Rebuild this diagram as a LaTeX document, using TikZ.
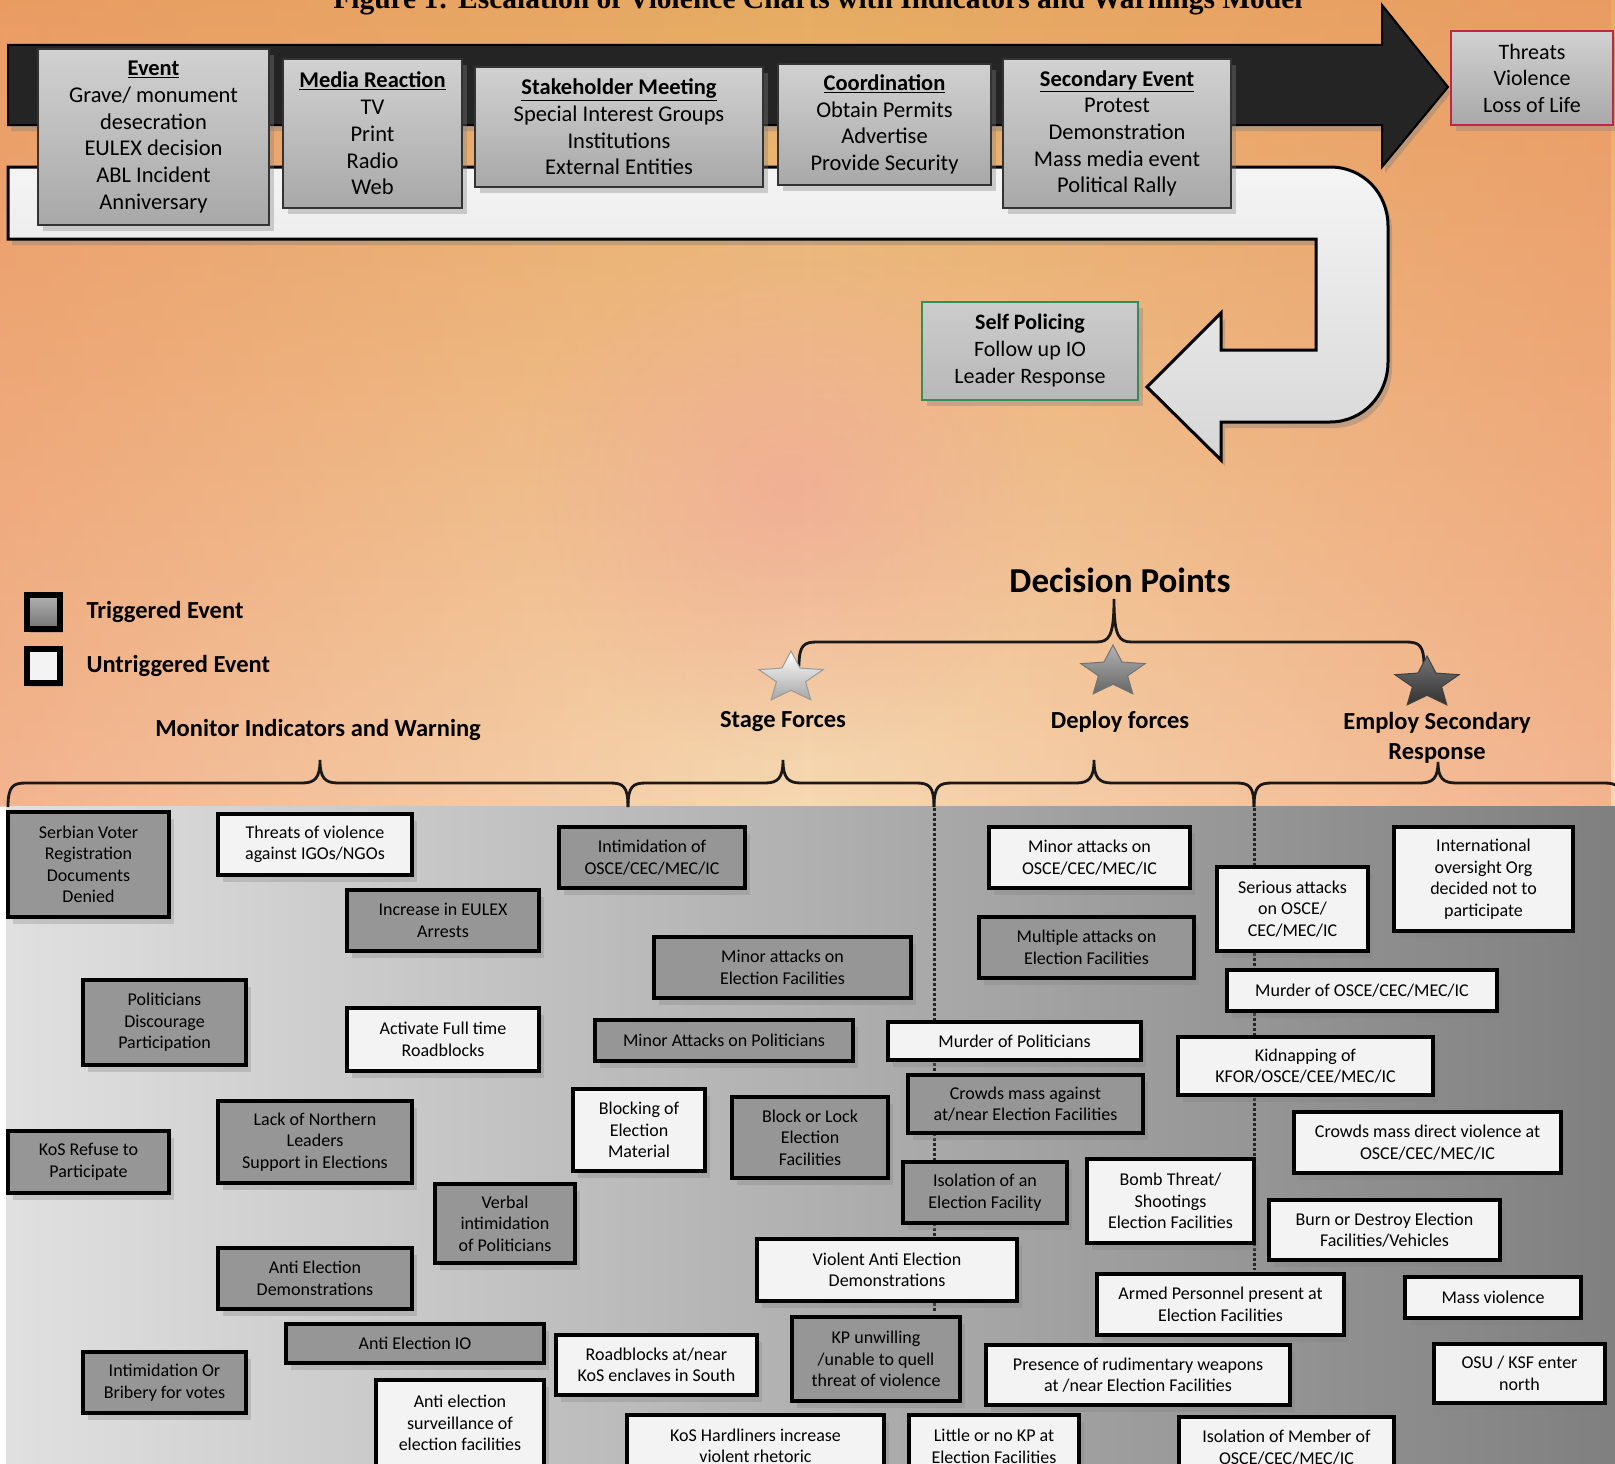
\documentclass[tikz,border=0pt]{standalone}
\usepackage{fontspec}
\setmainfont{Carlito}
\newfontfamily\titlefont{Liberation Serif}
\usetikzlibrary{positioning,shapes.geometric,shadows,fadings}

\definecolor{bgtop}{RGB}{230,172,98}
\definecolor{bgbot}{RGB}{246,216,178}
\definecolor{bgedge}{RGB}{238,136,100}
\definecolor{glow}{RGB}{242,164,150}
\definecolor{trigfill}{RGB}{150,150,150}
\definecolor{untrigfill}{RGB}{243,243,243}
\definecolor{arrowdark}{RGB}{36,36,36}
\definecolor{selfgreen}{RGB}{52,140,96}
\definecolor{threatred}{RGB}{190,40,70}

\tikzfading[name=sideedges, left color=transparent!0, right color=transparent!0, middle color=transparent!100]
\tikzfading[name=glowfade, inner color=transparent!0, outer color=transparent!100]

% header line of a phase box
\newcommand{\hd}[1]{\textbf{\underline{#1}}}
% curly bracket: left x, peak x, right x, line y, end y, peak y
\newcommand{\evbrace}[6]{%
  \draw[brc] (#1,#5) .. controls (#1,#4+3) and (#1+5,#4) .. (#1+18,#4)
    -- (#2-18,#4) .. controls (#2-5,#4) and (#2,#4-5) .. (#2,#6)
    .. controls (#2,#4-5) and (#2+5,#4) .. (#2+18,#4)
    -- (#3-18,#4) .. controls (#3-5,#4) and (#3,#4+3) .. (#3,#5);}

\begin{document}
\begin{tikzpicture}[
x=1pt, y=-1pt,
sz/.style 2 args={minimum width=#1-4, minimum height=#2-4},
phase/.style={draw=black!80, line width=2.5pt, top color=black!18, bottom color=black!34, inner sep=0pt, align=center, font=\fontsize{22.5}{26.7}\selectfont, drop shadow={opacity=0.35, shadow xshift=5pt, shadow yshift=-6pt}},
evbox/.style={draw=black, line width=4.5pt, inner sep=0pt, align=center, font=\fontsize{18}{21.5}\selectfont, drop shadow={opacity=0.3, shadow xshift=5pt, shadow yshift=-7pt}},
trig/.style={evbox, fill=trigfill},
untrig/.style={evbox, fill=untrigfill},
legsq/.style={draw=black, line width=6pt, minimum width=33, minimum height=34, inner sep=0pt, drop shadow={opacity=0.35, shadow xshift=3pt, shadow yshift=-4pt}},
lbl/.style={font=\fontsize{24.5}{30}\bfseries\selectfont, align=center},
dpstar/.style={star, star points=5, star point ratio=2.2, minimum size=54, inner sep=0pt, line width=1pt, transform shape},
brc/.style={line width=2.8pt, black!90},
dotline/.style={line width=3pt, black!85, dash pattern=on 2.5pt off 2.5pt},
darrow/.style={draw=black, line width=2pt, fill=arrowdark, drop shadow={opacity=0.4, shadow xshift=3pt, shadow yshift=-6pt}},
uarrow/.style={draw=black, line width=3pt, top color=black!4, bottom color=black!16, drop shadow={opacity=0.4, shadow xshift=4pt, shadow yshift=-6pt}}
]
\useasboundingbox (0,0) rectangle (1615,1464);

% background
\shade[top color=bgtop, bottom color=bgbot] (0,0) rectangle (1615,806);
\fill[bgedge, path fading=sideedges, opacity=0.45] (0,0) rectangle (1615,806);
\fill[glow, path fading=glowfade, opacity=0.65] (790,490) circle (270);
\shade[left color=black!12, middle color=black!25, right color=black!50] (6,806) rectangle (1615,1464);

\node[font=\titlefont\fontsize{29.5}{34}\bfseries\selectfont, anchor=base] (title) at (818,9) {Figure 1: Escalation of Violence Charts with Indicators and Warnings Model};

% escalation arrows
\draw[darrow] (8,45) -- (1382,45) -- (1382,5) -- (1448,87) -- (1382,167) -- (1382,125) -- (8,125) -- cycle;
\draw[uarrow] (8,167) -- (1330,167) .. controls (1363,167) and (1388,193) .. (1388,226)
  -- (1388,362) .. controls (1388,395) and (1363,422) .. (1330,422) -- (1221,422) -- (1221,460)
  -- (1147,387) -- (1221,313) -- (1221,350) -- (1316,350) -- (1316,239) -- (8,239) -- cycle;

\node[phase, sz={235}{180}] (event) at (153.5,137) {\hd{Event}\\Grave/ monument\\desecration\\EULEX decision\\ABL Incident\\Anniversary};
\node[phase, sz={183}{153}] (media) at (372.5,133.5) {\hd{Media Reaction}\\TV\\Print\\Radio\\Web};
\node[phase, sz={292}{124}] (stake) at (619,127) {\hd{Stakeholder Meeting}\\Special Interest Groups\\Institutions\\External Entities};
\node[phase, sz={217}{125}] (coord) at (884.5,124.5) {\hd{Coordination}\\Obtain Permits\\Advertise\\Provide Security};
\node[phase, sz={232}{153}] (second) at (1117,133.5) {\hd{Secondary Event}\\Protest\\Demonstration\\Mass media event\\Political Rally};
\node[phase, draw=threatred, line width=1.5pt, font=\fontsize{22}{26.5}\selectfont, sz={166}{98}] (threats) at (1532,78) {Threats\\Violence\\Loss of Life};
\node[phase, draw=selfgreen, line width=1.5pt, top color=black!20, bottom color=black!28, font=\fontsize{22}{27}\selectfont, sz={220}{102}] (selfpol) at (1030,351) {\textbf{Self Policing}\\Follow up IO\\Leader Response};

% legend
\node[legsq, top color=black!30, bottom color=black!55] (trig) at (43.5,612) {};
\node[legsq, fill=untrigfill] (untrig) at (43.5,665.5) {};
\node[lbl, right=20pt of trig] (triglbl) {Triggered Event};
\node[lbl, right=20pt of untrig] (untriglbl) {Untriggered Event};

% decision points
\node[font=\fontsize{35}{40}\bfseries\selectfont] (dptitle) at (1120,580) {Decision Points};
\evbrace{799}{1114}{1424}{642}{666}{599}
\begin{scope}[shift={(791,678)}, xscale=1.25]
\node[dpstar, draw=black!40, top color=white, bottom color=black!35] (stagestar) {};
\end{scope}
\begin{scope}[shift={(1113,672)}, xscale=1.25]
\node[dpstar, draw=black!55, top color=black!30, bottom color=black!60] (deploystar) {};
\end{scope}
\begin{scope}[shift={(1427,683)}, xscale=1.25]
\node[dpstar, draw=black!75, top color=black!55, bottom color=black!80] (employstar) {};
\end{scope}
\node[lbl] (stagelbl) at (783,722) {Stage Forces};
\node[lbl] (deploylbl) at (1120,722) {Deploy forces};
\node[lbl] (employlbl) at (1437,738) {Employ Secondary\\Response};
\node[lbl] (monitorlbl) at (318,730) {Monitor Indicators and Warning};

% phase brackets
\evbrace{8}{320}{628}{783}{807}{760}
\evbrace{628}{783}{934}{783}{807}{760}
\evbrace{934}{1094}{1254}{783}{807}{760}
\evbrace{1254}{1438}{1622}{783}{807}{762}
\coordinate (j2) at (934,808);
\coordinate (j2end) at (934,1312);
\coordinate (j3) at (1254,808);
\coordinate (j3end) at (1254,1270);
\draw[dotline] (j2) -- (j2end);
\draw[dotline] (j3) -- (j3end);

% monitor indicators and warning
\node[trig, sz={165}{109}] (serbian) at (88.5,864.5) {Serbian Voter\\Registration\\Documents\\Denied};
\node[untrig, sz={198}{65}] (threatigo) at (315,844.5) {Threats of violence\\against IGOs/NGOs};
\node[trig, sz={196}{65}] (eulex) at (443,920.5) {Increase in EULEX\\Arrests};
\node[trig, sz={167}{89}] (discourage) at (164.5,1022.5) {Politicians\\Discourage\\Participation};
\node[untrig, sz={196}{67}] (fulltime) at (443,1039.5) {Activate Full time\\Roadblocks};
\node[trig, sz={198}{86}] (lacknorth) at (315,1142) {Lack of Northern\\Leaders\\Support in Elections};
\node[trig, sz={165}{66}] (kosrefuse) at (88.5,1162) {KoS Refuse to\\Participate};
\node[trig, sz={144}{83}] (verbal) at (505,1223.5) {Verbal\\intimidation\\of Politicians};
\node[trig, sz={198}{65}] (antidemo) at (315,1278.5) {Anti Election\\Demonstrations};
\node[trig, sz={262}{43}] (antiio) at (415,1343.5) {Anti Election IO};
\node[trig, sz={167}{65}] (bribery) at (164.5,1382.5) {Intimidation Or\\Bribery for votes};
\node[untrig, sz={172}{90}] (surveil) at (460,1423) {Anti election\\surveillance of\\election facilities};

% stage forces
\node[trig, sz={190}{65}] (intimosce) at (652,857.5) {Intimidation of\\OSCE/CEC/MEC/IC};
\node[trig, sz={261}{65}] (minorfac) at (782.5,967.5) {Minor attacks on\\Election Facilities};
\node[trig, sz={262}{45}] (minorpol) at (724,1040.5) {Minor Attacks on Politicians};
\node[untrig, sz={136}{86}] (blocking) at (639,1130) {Blocking of\\Election\\Material};
\node[trig, sz={160}{85}] (blocklock) at (810,1137.5) {Block or Lock\\Election\\Facilities};
\node[untrig, sz={205}{64}] (roadkos) at (656.5,1365) {Roadblocks at/near\\KoS enclaves in South};
\node[untrig, sz={261}{66}] (hardliners) at (755.5,1446) {KoS Hardliners increase\\violent rhetoric};

% deploy forces
\node[untrig, sz={257}{42}] (murderpol) at (1014.5,1041) {Murder of Politicians};
\node[trig, sz={239}{62}] (crowdsnear) at (1025.5,1104) {Crowds mass against\\at/near Election Facilities};
\node[trig, sz={168}{65}] (isolfac) at (985,1192.5) {Isolation of an\\Election Facility};
\node[untrig, sz={264}{66}] (violentdemo) at (887,1270) {Violent Anti Election\\Demonstrations};
\node[trig, sz={172}{88}] (kpunwill) at (876,1359) {KP unwilling\\/unable to quell\\threat of violence};
\node[untrig, sz={174}{67}] (littlekp) at (994,1446.5) {Little or no KP at\\Election Facilities};
\node[untrig, sz={205}{65}] (minorosce) at (1089.5,857.5) {Minor attacks on\\OSCE/CEC/MEC/IC};
\node[trig, sz={219}{65}] (multiple) at (1086.5,947.5) {Multiple attacks on\\Election Facilities};
\node[untrig, sz={171}{88}] (bomb) at (1170.5,1201) {Bomb Threat/\\Shootings\\Election Facilities};
\node[untrig, sz={308}{64}] (presence) at (1138,1375) {Presence of rudimentary weapons\\at /near Election Facilities};

% employ secondary response
\node[untrig, sz={155}{88}] (serious) at (1292.5,909) {Serious attacks\\on OSCE/\\CEC/MEC/IC};
\node[untrig, sz={183}{108}] (intl) at (1483.5,879) {International\\oversight Org\\decided not to\\participate};
\node[untrig, sz={274}{45}] (murderosce) at (1362,990.5) {Murder of OSCE/CEC/MEC/IC};
\node[untrig, sz={259}{62}] (kidnap) at (1305.5,1066) {Kidnapping of\\KFOR/OSCE/CEE/MEC/IC};
\node[untrig, sz={271}{65}] (crowdsdirect) at (1427.5,1142.5) {Crowds mass direct violence at\\OSCE/CEC/MEC/IC};
\node[untrig, sz={235}{64}] (burn) at (1384.5,1230) {Burn or Destroy Election\\Facilities/Vehicles};
\node[untrig, sz={251}{65}] (armed) at (1220.5,1304.5) {Armed Personnel present at\\Election Facilities};
\node[untrig, sz={180}{45}] (massviol) at (1493,1297.5) {Mass violence};
\node[untrig, sz={175}{63}] (osu) at (1519.5,1373.5) {OSU / KSF enter\\north};
\node[untrig, sz={219}{65}] (isolmember) at (1286.5,1447.5) {Isolation of Member of\\OSCE/CEC/MEC/IC};
\end{tikzpicture}
\end{document}
